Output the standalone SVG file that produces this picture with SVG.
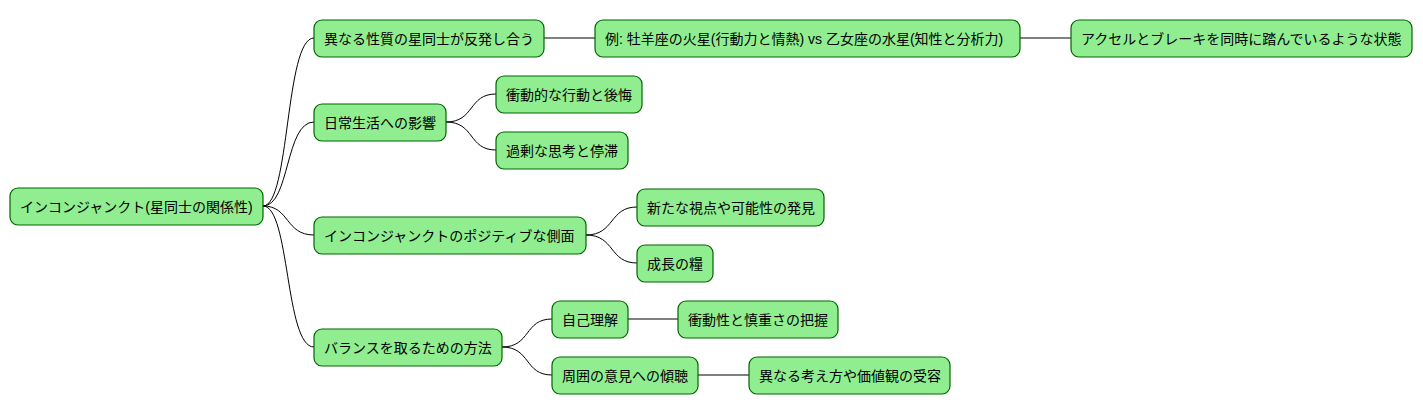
<svg xmlns="http://www.w3.org/2000/svg" width="1423" height="415" viewBox="0 0 1423 415">
<style>
.n rect{fill:#90EE90;stroke:#006400;stroke-width:1.2}
.n text{font-family:"Liberation Sans","Noto Sans CJK JP",sans-serif;font-size:14px;fill:#000;dominant-baseline:central}
.c path{fill:none;stroke:#000;stroke-width:1}
</style>
<rect width="1423" height="415" fill="#fff"/>
<g class="c">
<path d="M263,206 C290,206 285,38 314,38"/>
<path d="M263,206 C290,206 285,122 314,122"/>
<path d="M263,206 C290,206 285,235 314,235"/>
<path d="M263,206 C290,206 285,347 314,347"/>
<path d="M544,38 L595,38"/>
<path d="M1020,38 L1071,38"/>
<path d="M446,122 C475,122 468,94 496,94"/>
<path d="M446,122 C475,122 468,150 496,150"/>
<path d="M586,235 C615,235 609,207 637,207"/>
<path d="M586,235 C615,235 609,263 637,263"/>
<path d="M502,347 C531,347 524,319 552,319"/>
<path d="M502,347 C531,347 524,375 552,375"/>
<path d="M628,319 L678,319"/>
<path d="M698,375 L749,375"/>
</g>
<g id="root" class="n"><rect x="10" y="188" width="253" height="37" rx="8"/><text x="20" y="206.5">インコンジャンクト(星同士の関係性)</text></g>
<g id="n1" class="n"><rect x="314" y="20" width="230" height="37" rx="8"/><text x="324" y="38.5">異なる性質の星同士が反発し合う</text></g>
<g id="n1a" class="n"><rect x="595" y="20" width="425" height="37" rx="8"/><text x="605" y="38.5">例: 牡羊座の火星(行動力と情熱) vs 乙女座の水星(知性と分析力)</text></g>
<g id="n1b" class="n"><rect x="1071" y="20" width="341" height="37" rx="8"/><text x="1081" y="38.5">アクセルとブレーキを同時に踏んでいるような状態</text></g>
<g id="n2" class="n"><rect x="314" y="104" width="132" height="37" rx="8"/><text x="324" y="122.5">日常生活への影響</text></g>
<g id="n2a" class="n"><rect x="496" y="76" width="146" height="37" rx="8"/><text x="506" y="94.5">衝動的な行動と後悔</text></g>
<g id="n2b" class="n"><rect x="496" y="132" width="132" height="37" rx="8"/><text x="506" y="150.5">過剰な思考と停滞</text></g>
<g id="n3" class="n"><rect x="314" y="217" width="272" height="37" rx="8"/><text x="324" y="235.5">インコンジャンクトのポジティブな側面</text></g>
<g id="n3a" class="n"><rect x="637" y="189" width="187" height="37" rx="8"/><text x="647" y="207.5">新たな視点や可能性の発見</text></g>
<g id="n3b" class="n"><rect x="637" y="245" width="76" height="37" rx="8"/><text x="647" y="263.5">成長の糧</text></g>
<g id="n4" class="n"><rect x="314" y="329" width="188" height="37" rx="8"/><text x="324" y="347.5">バランスを取るための方法</text></g>
<g id="n4a" class="n"><rect x="552" y="301" width="76" height="37" rx="8"/><text x="562" y="319.5">自己理解</text></g>
<g id="n4aa" class="n"><rect x="678" y="301" width="160" height="37" rx="8"/><text x="688" y="319.5">衝動性と慎重さの把握</text></g>
<g id="n4b" class="n"><rect x="552" y="357" width="146" height="37" rx="8"/><text x="562" y="375.5">周囲の意見への傾聴</text></g>
<g id="n4ba" class="n"><rect x="749" y="357" width="201" height="37" rx="8"/><text x="759" y="375.5">異なる考え方や価値観の受容</text></g>
</svg>
